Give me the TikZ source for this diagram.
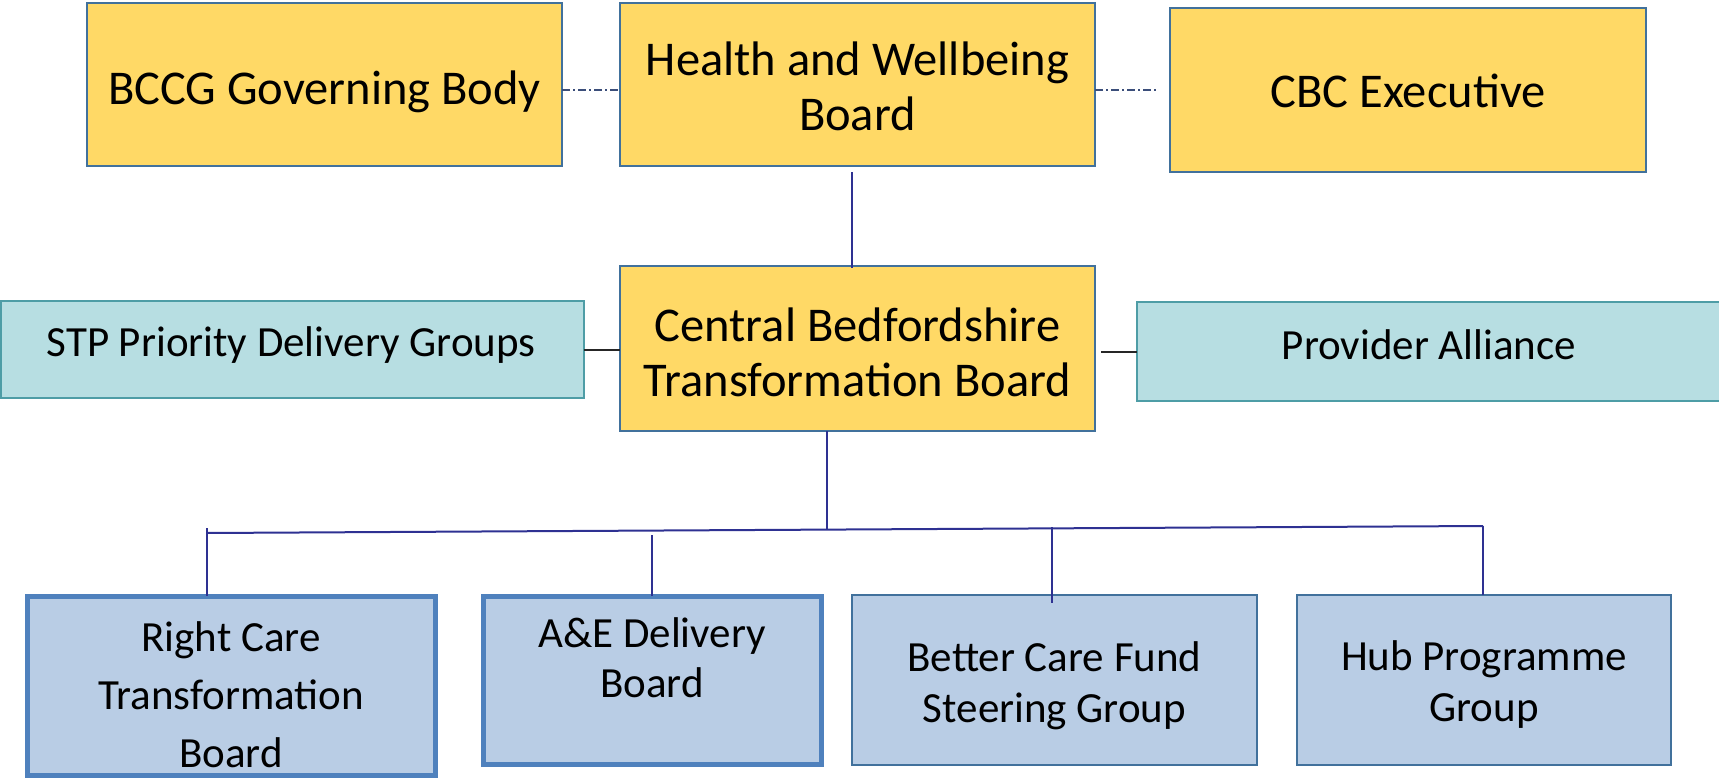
\documentclass[tikz,border=0pt]{standalone}
\usepackage{fontspec}
\setmainfont{Carlito}
\definecolor{hwyellow}{HTML}{FFD966}
\definecolor{hwedge}{HTML}{41719C}
\definecolor{tealfill}{HTML}{B7DEE2}
\definecolor{tealedge}{HTML}{4E9DA6}
\definecolor{bluefill}{HTML}{B9CDE5}
\definecolor{blueedge}{HTML}{4F81BD}
\definecolor{navy}{HTML}{2E3192}
\definecolor{slate}{HTML}{3B4E7A}
\begin{document}
\begin{tikzpicture}[x=1pt,y=-1pt,
  box/.style={rectangle, inner sep=0pt, outer sep=0pt},
  yellowbox/.style={box, fill=hwyellow, draw=hwedge, line width=2.8pt},
  tealbox/.style={box, fill=tealfill, draw=tealedge, line width=1.5pt},
  bluebox/.style={box, fill=bluefill, draw=hwedge, line width=2.5pt},
  boldbluebox/.style={box, fill=bluefill, draw=blueedge, line width=5pt},
  bigtxt/.style={align=center, inner sep=0pt, font=\fontsize{48.5}{55}\selectfont},
  midtxt/.style={align=center, inner sep=0pt, font=\fontsize{43}{51}\selectfont},
  link/.style={navy, line width=2pt},
  sidelink/.style={black!85, line width=2pt},
  peer/.style={slate, line width=1.3pt, dash pattern=on 8pt off 3pt on 2pt off 3pt}]

\useasboundingbox (0,0) rectangle (1719,779);

% top row
\node[yellowbox, minimum width=475pt, minimum height=163pt] (bccg) at (324.5,84.5) {};
\node[bigtxt] (bccg-t) at (324.5,91.5) {BCCG Governing Body};
\node[yellowbox, minimum width=475pt, minimum height=163pt] (hwb) at (857.5,84.5) {};
\node[bigtxt] (hwb-t) at (857.5,86) {Health and Wellbeing\\Board};
\node[yellowbox, minimum width=476pt, minimum height=164pt] (cbc) at (1408,90) {};
\node[bigtxt] (cbc-t) at (1408,91) {CBC Executive};

% middle row
\node[yellowbox, minimum width=475pt, minimum height=165pt] (cbtb) at (857.5,348.5) {};
\node[bigtxt] (cbtb-t) at (857.5,352.5) {Central Bedfordshire\\Transformation Board};
\node[tealbox, minimum width=583pt, minimum height=97pt] (stp) at (292.4,349.5) {};
\node[midtxt] (stp-t) at (291,345) {STP Priority Delivery Groups};
\node[tealbox, minimum width=588pt, minimum height=99pt] (prov) at (1431,351.5) {};
\node[midtxt] (prov-t) at (1429,345) {Provider Alliance};

% bottom row
\node[boldbluebox, minimum width=408pt, minimum height=179pt] (rc) at (231,685.5) {};
\node[midtxt, font=\fontsize{43}{58}\selectfont] (rc-t) at (231,695) {Right Care\\Transformation\\Board};
\node[boldbluebox, minimum width=338pt, minimum height=168pt] (ae) at (652,680) {};
\node[midtxt, font=\fontsize{43}{50}\selectfont] (ae-t) at (652,658) {A\&E Delivery\\Board};
\node[bluebox, minimum width=405pt, minimum height=170pt] (bcf) at (1054.5,680) {};
\node[midtxt] (bcf-t) at (1054.5,685.5) {Better Care Fund\\Steering Group};
\node[bluebox, minimum width=374pt, minimum height=170pt] (hub) at (1484,680) {};
\node[midtxt] (hub-t) at (1484,685) {Hub Programme\\Group};

% peer links between the governing bodies
\draw[peer] (bccg.east |- cbc.center) -- (hwb.west |- cbc.center);
\draw[peer, shorten >=12pt] (hwb.east |- cbc.center) -- (cbc.west);

% reporting line down to the transformation board
\draw[link] ([xshift=-5.5pt,yshift=-6pt]hwb.south) -- ([xshift=-5.5pt,yshift=-2pt]cbtb.north);

% side links
\draw[sidelink] (stp.east) -- (cbtb.west |- stp.east);
\draw[sidelink, shorten <=6pt] (cbtb.east |- prov.west) -- (prov.west);

% distribution bus to the delivery groups
\coordinate (busL) at (207,533);
\coordinate (busR) at (1483,526);
\coordinate (busM) at (827,529.6);
\coordinate (aeJ) at (652,535);
\coordinate (bcfJ) at (1052,527);
\draw[link] ([xshift=-30.5pt]cbtb.south) -- (busM);
\draw[link] (busL) -- (busR);
\draw[link] ([yshift=5pt]busL) -- (rc.north -| busL);
\draw[link] (aeJ) -- (ae.north);
\draw[link] (bcfJ) -- ([yshift=-8pt]bcf.north -| bcfJ);
\draw[link] (busR) -- (hub.north -| busR);
\end{tikzpicture}
\end{document}
